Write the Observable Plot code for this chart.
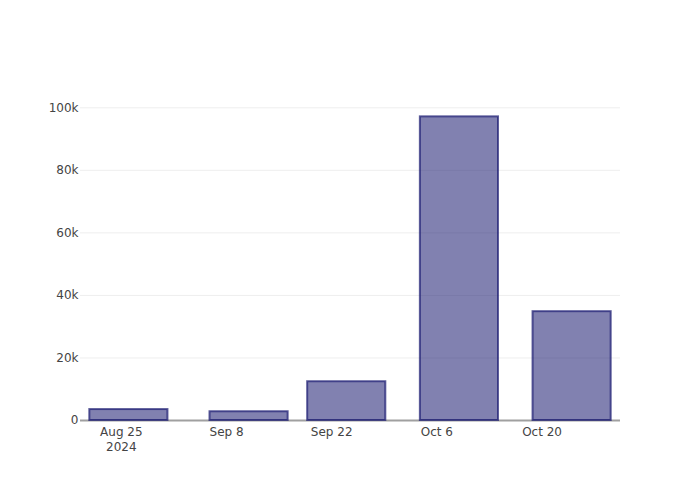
<!DOCTYPE html>
<html>
<head>
<meta charset="utf-8">
<script src="https://cdn.jsdelivr.net/npm/d3@7"></script>
<script src="https://cdn.jsdelivr.net/npm/@observablehq/plot@0.6"></script>
<style>
  html, body { margin: 0; padding: 0; background: #fff; }
  #chart { width: 700px; height: 500px; }
</style>
</head>
<body>
<div id="chart"></div>
<script>
// Data
const dates = ["2024-08-26", "2024-09-11", "2024-09-24", "2024-10-09", "2024-10-24"];
const values = [3500, 2800, 12400, 97100, 34800];

const xTicks = ["2024-08-25", "2024-09-08", "2024-09-22", "2024-10-06", "2024-10-20"];
const xTickLabels = ["Aug 25\n2024", "Sep 8", "Sep 22", "Oct 6", "Oct 20"];
const yTicks = [0, 20000, 40000, 60000, 80000, 100000];
const yTickLabels = ["0", "20k", "40k", "60k", "80k", "100k"];

const DAY = 864e5;
const data = dates.map((d, i) => ({ date: new Date(d + "T00:00:00Z"), value: values[i] }));
// bar width: 0.8 of the smallest spacing between bars (like the original)
let minGap = Infinity;
for (let i = 1; i < data.length; i++) minGap = Math.min(minGap, data[i].date - data[i - 1].date);
const half = 0.4 * minGap;
const pad = 1.24 * DAY;
const xDomain = [new Date(+data[0].date - half - pad), new Date(+data[data.length - 1].date + half + pad)];

const xTickDates = xTicks.map(d => new Date(d + "T00:00:00Z"));

const chart = Plot.plot({
  width: 700,
  height: 500,
  marginTop: 100,
  marginBottom: 80,
  marginLeft: 80,
  marginRight: 80,
  style: { fontFamily: "'DejaVu Sans', sans-serif", fontSize: "12px", color: "#444", background: "#fff" },
  x: { type: "utc", domain: xDomain },
  y: { domain: [0, 102330] },
  marks: [
    Plot.gridY(yTicks, { stroke: "#eeeeee", strokeOpacity: 1 }),
    Plot.ruleY([0], { stroke: "#a0a0a0", strokeWidth: 2 }),
    Plot.rect(data, {
      x1: d => new Date(+d.date - half),
      x2: d => new Date(+d.date + half),
      y1: 0,
      y2: "value",
      fill: "#191970",
      fillOpacity: 0.55,
      stroke: "#191970",
      strokeOpacity: 0.7,
      strokeWidth: 2
    }),
    Plot.axisY(yTicks, {
      tickSize: 0,
      tickPadding: 2,
      tickFormat: (d, i) => yTickLabels[i],
      label: null,
      fill: "#444",
      fontSize: 12
    }),
    Plot.axisX(xTickDates, {
      tickSize: 0,
      tickPadding: 4,
      tickFormat: (d, i) => xTickLabels[i],
      label: null,
      fill: "#444",
      fontSize: 12,
      lineHeight: 1.3
    })
  ]
});
document.getElementById("chart").appendChild(chart);
</script>
</body>
</html>
